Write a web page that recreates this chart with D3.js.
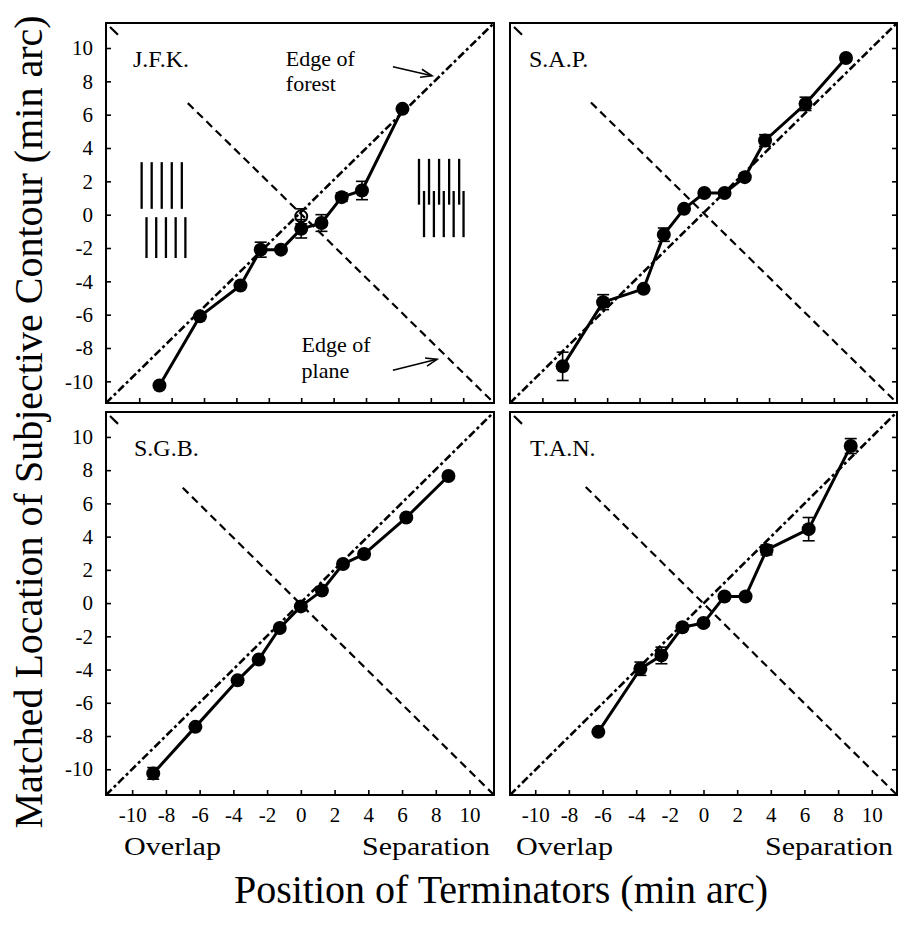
<!DOCTYPE html>
<html>
<head>
<meta charset="utf-8">
<script src="https://cdn.jsdelivr.net/npm/d3@7"></script>
<style>
  html, body { margin: 0; padding: 0; background: #fff; }
  svg { display: block; }
  svg text { font-family: "Liberation Serif", "Times New Roman", Times, "DejaVu Serif", serif; }
</style>
</head>
<body>
<div id="chart"></div>
<script>
// tick values shared by every panel
const tickValues = [-10, -8, -6, -4, -2, 0, 2, 4, 6, 8, 10];

// terminator positions (min arc)
const xFull = [-8.75, -6.25, -3.75, -2.5, -1.25, 0, 1.25, 2.5, 3.75, 6.25, 8.75];
const xJFK  = [-8.75, -6.25, -3.75, -2.5, -1.25, 0, 1.25, 2.5, 3.75, 6.25];
const xTAN  = [-6.25, -3.75, -2.5, -1.25, 0, 1.25, 2.5, 3.75, 6.25, 8.75];

// matched location per observer and its error
const yJFK   = [-10.25, -6.1, -4.25, -2.1, -2.1, -0.85, -0.5, 1.05, 1.45, 6.35];
const errJFK = [0, 0, 0, 0.45, 0, 0.55, 0.5, 0.25, 0.55, 0];
const openJFK = [{x: 0, y: -0.1, e: 0.45}];   // hollow marker

const ySAP   = [-9.1, -5.25, -4.45, -1.2, 0.35, 1.3, 1.3, 2.25, 4.45, 6.65, 9.4];
const errSAP = [0.85, 0.45, 0, 0.4, 0, 0, 0, 0, 0.35, 0.4, 0];

const ySGB   = [-10.25, -7.45, -4.65, -3.4, -1.5, -0.2, 0.75, 2.35, 2.95, 5.15, 7.65];
const errSGB = [0.35, 0, 0, 0, 0, 0, 0, 0, 0, 0, 0];

const yTAN   = [-7.75, -3.95, -3.15, -1.45, -1.2, 0.4, 0.4, 3.2, 4.45, 9.45];
const errTAN = [0, 0.4, 0.5, 0, 0, 0, 0, 0.3, 0.7, 0.45];

// little stimulus sketches in the J.F.K. panel (data units)
const iconRows = [
  {x0: -9.85, dx: 0.62, n: 5, y0: 3.15, y1: 0.35},
  {x0: -9.55, dx: 0.6,  n: 5, y0: -0.15, y1: -2.6},
  {x0: 7.27,  dx: 0.62, n: 5, y0: 3.35, y1: 0.6},
  {x0: 7.58,  dx: 0.61, n: 5, y0: 1.42, y1: -1.35}
];

const zip = (xs, ys, es) => xs.map((x, i) => ({x, y: ys[i], e: es[i]}));

const panels = [
  {name: "J.F.K.", data: zip(xJFK, yJFK, errJFK), open: openJFK, icons: true, notes: true,
   left: 106, top: 23, w: 388, h: 380, xd: [-12.05, 11.9], yd: [-11.3, 11.5], side: "left", bottom: false, lx: 27},
  {name: "S.A.P.", data: zip(xFull, ySAP, errSAP),
   left: 510, top: 23, w: 387, h: 380, xd: [-12.0, 11.9], yd: [-11.3, 11.5], side: "right", bottom: false, lx: 19},
  {name: "S.G.B.", data: zip(xFull, ySGB, errSGB),
   left: 106, top: 412, w: 388, h: 383, xd: [-11.55, 11.45], yd: [-11.55, 11.5], side: "left", bottom: true, lx: 28},
  {name: "T.A.N.", data: zip(xTAN, yTAN, errTAN),
   left: 510, top: 412, w: 387, h: 383, xd: [-11.5, 11.5], yd: [-11.55, 11.5], side: "right", bottom: true, lx: 20}
];

const W = 898, H = 931;
const svg = d3.select("#chart").append("svg").attr("width", W).attr("height", H);

const plain = d => String(d);   // ascii hyphen like the original

panels.forEach(p => {
  const g = svg.append("g").attr("transform", `translate(${p.left},${p.top})`);
  const x = d3.scaleLinear().domain(p.xd).range([0, p.w]);
  const y = d3.scaleLinear().domain(p.yd).range([p.h, 0]);

  // axes: ticks point inwards
  const xAxis = d3.axisBottom(x).tickValues(tickValues).tickSizeInner(-5).tickSizeOuter(0).tickPadding(12)
    .tickFormat(p.bottom ? plain : "");
  g.append("g").attr("transform", `translate(0,${p.h})`).call(xAxis)
    .call(a => a.select(".domain").remove())
    .attr("font-family", null).attr("font-size", 21);

  const yAxis = (p.side === "left" ? d3.axisLeft(y) : d3.axisRight(y))
    .tickValues(tickValues).tickSizeInner(-5).tickSizeOuter(0).tickPadding(13)
    .tickFormat(p.side === "left" ? plain : "");
  g.append("g").attr("transform", `translate(${p.side === "left" ? 0 : p.w},0)`).call(yAxis)
    .call(a => a.select(".domain").remove())
    .attr("font-family", null).attr("font-size", 21);

  g.selectAll(".tick line").attr("stroke", "#000").attr("stroke-width", 1.6);
  g.selectAll(".tick text").attr("fill", "#000");

  // frame
  g.append("rect").attr("width", p.w).attr("height", p.h)
    .attr("fill", "none").attr("stroke", "#000").attr("stroke-width", 2);

  // edge of forest: dash-dot identity diagonal
  g.append("line")
    .attr("x1", 0).attr("y1", p.h).attr("x2", p.w).attr("y2", 0)
    .attr("stroke", "#000").attr("stroke-width", 2.6)
    .attr("stroke-dasharray", "8,3,3,3");

  // edge of plane: dashed anti-diagonal
  const sx = x(-7);
  g.append("line")
    .attr("x1", sx).attr("y1", sx * p.h / p.w).attr("x2", p.w).attr("y2", p.h)
    .attr("stroke", "#000").attr("stroke-width", 2.2)
    .attr("stroke-dasharray", "8,5");
  g.append("line")
    .attr("x1", 4).attr("y1", 4 * p.h / p.w).attr("x2", 12).attr("y2", 12 * p.h / p.w)
    .attr("stroke", "#000").attr("stroke-width", 2.2);

  // stimulus icons
  if (p.icons) {
    iconRows.forEach(r => {
      g.append("g").selectAll("line").data(d3.range(r.n)).join("line")
        .attr("x1", i => x(r.x0 + i * r.dx)).attr("x2", i => x(r.x0 + i * r.dx))
        .attr("y1", y(r.y0)).attr("y2", y(r.y1))
        .attr("stroke", "#000").attr("stroke-width", 2.3);
    });
  }

  // data line
  g.append("path").datum(p.data)
    .attr("fill", "none").attr("stroke", "#000").attr("stroke-width", 3)
    .attr("stroke-linejoin", "round")
    .attr("d", d3.line().x(d => x(d.x)).y(d => y(d.y)));

  // error bars
  const allPts = p.data.concat(p.open || []).filter(d => d.e > 0);
  const eb = g.append("g").attr("stroke", "#000").attr("stroke-width", 1.6);
  eb.selectAll("line.v").data(allPts).join("line").attr("class", "v")
    .attr("x1", d => x(d.x)).attr("x2", d => x(d.x))
    .attr("y1", d => y(d.y - d.e)).attr("y2", d => y(d.y + d.e));
  eb.selectAll("line.t").data(allPts).join("line").attr("class", "t")
    .attr("x1", d => x(d.x) - 6).attr("x2", d => x(d.x) + 6)
    .attr("y1", d => y(d.y + d.e)).attr("y2", d => y(d.y + d.e));
  eb.selectAll("line.b").data(allPts).join("line").attr("class", "b")
    .attr("x1", d => x(d.x) - 6).attr("x2", d => x(d.x) + 6)
    .attr("y1", d => y(d.y - d.e)).attr("y2", d => y(d.y - d.e));

  // markers
  g.append("g").selectAll("circle").data(p.data).join("circle")
    .attr("cx", d => x(d.x)).attr("cy", d => y(d.y)).attr("r", 7).attr("fill", "#000");
  if (p.open) {
    g.append("g").selectAll("circle").data(p.open).join("circle")
      .attr("cx", d => x(d.x)).attr("cy", d => y(d.y)).attr("r", 6)
      .attr("fill", "none").attr("stroke", "#000").attr("stroke-width", 2);
  }

  // observer label
  g.append("text").attr("x", p.lx).attr("y", 44).attr("font-size", 24).text(p.name);

  // annotations
  if (p.notes) {
    const arrow = (x1, y1, x2, y2) => {
      const ang = Math.atan2(y2 - y1, x2 - x1);
      g.append("line").attr("x1", x1).attr("y1", y1).attr("x2", x2).attr("y2", y2)
        .attr("stroke", "#000").attr("stroke-width", 1.6);
      const a1 = ang + Math.PI - 0.35, a2 = ang + Math.PI + 0.35, L = 12;
      g.append("path")
        .attr("d", `M${x2 + L * Math.cos(a1)},${y2 + L * Math.sin(a1)}L${x2},${y2}L${x2 + L * Math.cos(a2)},${y2 + L * Math.sin(a2)}`)
        .attr("fill", "none").attr("stroke", "#000").attr("stroke-width", 1.6);
    };
    const t1 = g.append("text").attr("font-size", 22);
    t1.append("tspan").attr("x", x(-0.95)).attr("y", y(8.95)).text("Edge of");
    t1.append("tspan").attr("x", x(-0.95)).attr("y", y(7.4)).text("forest");
    arrow(x(5.66), y(8.87), x(8.07), y(8.33));

    const t2 = g.append("text").attr("font-size", 22);
    t2.append("tspan").attr("x", x(0.02)).attr("y", y(-8.24)).text("Edge of");
    t2.append("tspan").attr("x", x(0.02)).attr("y", y(-9.82)).text("plane");
    arrow(x(5.66), y(-9.34), x(8.38), y(-8.68));
  }

  // overlap / separation captions
  if (p.bottom) {
    g.append("text").attr("x", p.side === "left" ? 18 : 6).attr("y", 855 - p.top).attr("font-size", 26)
      .attr("textLength", 97).attr("lengthAdjust", "spacingAndGlyphs").text("Overlap");
    g.append("text").attr("x", p.w - 4 - 128).attr("y", 855 - p.top).attr("font-size", 26)
      .attr("textLength", 128).attr("lengthAdjust", "spacingAndGlyphs").text("Separation");
  }
});

// axis titles
svg.append("text")
  .attr("transform", "translate(42,422) rotate(-90)")
  .attr("text-anchor", "middle").attr("font-size", 40)
  .text("Matched Location of Subjective Contour (min arc)");

svg.append("text")
  .attr("x", 501).attr("y", 903)
  .attr("text-anchor", "middle").attr("font-size", 40)
  .text("Position of Terminators (min arc)");
</script>
</body>
</html>
